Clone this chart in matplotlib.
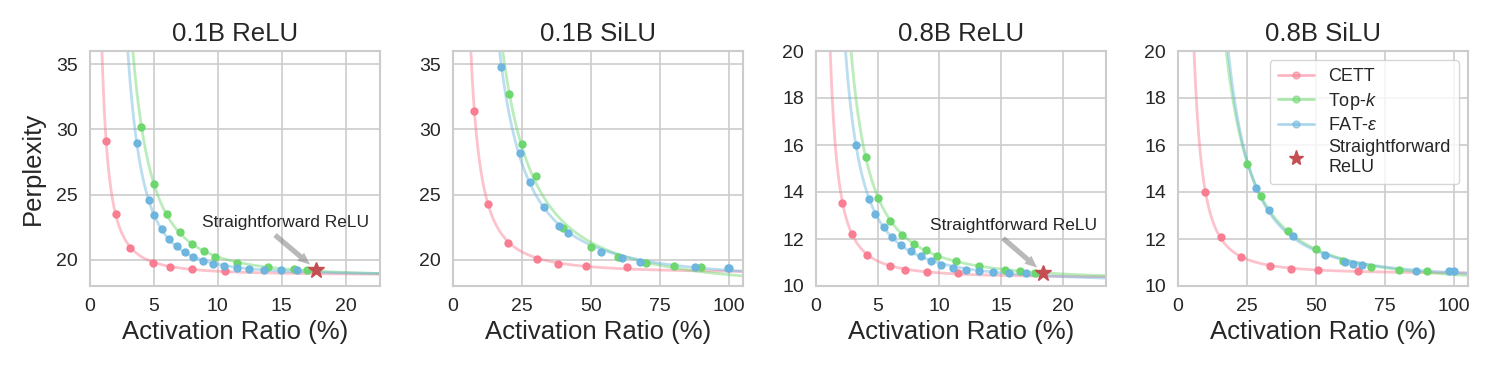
import numpy as np
import matplotlib
matplotlib.use("Agg")
import matplotlib.pyplot as plt
import seaborn as sns

sns.set_style("whitegrid")
plt.rcParams['font.family'] = ['Liberation Sans', 'DejaVu Sans']
plt.rcParams['mathtext.fontset'] = 'custom'
plt.rcParams['mathtext.it'] = 'Liberation Sans:italic'
plt.rcParams['mathtext.rm'] = 'Liberation Sans'

# ---- data ----
titles = ["0.1B ReLU", "0.1B SiLU", "0.8B ReLU", "0.8B SiLU"]
methods = ["CETT", "Top-$k$", "FAT-$\\varepsilon$"]
colors = ["#f97a8f", "#6ad66a", "#6ab4de"]

# 0.1B ReLU
relu01_cett_x = [1.26, 2.02, 3.17, 4.97, 6.23, 7.96, 10.55]
relu01_cett_y = [29.13, 23.49, 20.92, 19.77, 19.49, 19.28, 19.15]
relu01_topk_x = [4.03, 5.0, 6.02, 7.02, 7.96, 8.9, 9.82, 11.54, 13.93, 16.0, 16.96]
relu01_topk_y = [30.2, 25.79, 23.49, 22.13, 21.23, 20.67, 20.21, 19.74, 19.44, 19.31, 19.23]
relu01_fat_x = [3.66, 4.58, 5.03, 5.6, 6.18, 6.78, 7.41, 8.09, 8.82, 9.61, 10.5,
                11.47, 12.46, 13.61, 14.92, 16.23]
relu01_fat_y = [28.92, 24.62, 23.41, 22.38, 21.62, 21.05, 20.59, 20.21, 19.9, 19.69, 19.51,
                19.38, 19.31, 19.23, 19.23, 19.2]
relu01_star = (17.72, 19.23)

# 0.1B SiLU
silu01_cett_x = [7.73, 12.8, 20.05, 30.56, 38.04, 48.07, 63.04]
silu01_cett_y = [31.41, 24.28, 21.31, 20.03, 19.72, 19.51, 19.44]
silu01_topk_x = [20.17, 25.12, 30.07, 39.98, 50.0, 59.9, 69.9, 79.95, 89.86]
silu01_topk_y = [32.74, 28.87, 26.41, 22.41, 20.97, 20.23, 19.77, 19.54, 19.44]
silu01_fat_x = [17.51, 24.15, 27.9, 32.85, 38.41, 41.67, 53.62, 61.35, 67.75, 87.44, 99.5, 100]
silu01_fat_y = [34.77, 28.15, 25.97, 24.03, 22.62, 22.03, 20.64, 20.13, 19.82, 19.44, 19.41, 19.41]

# 0.8B ReLU
relu08_cett_x = [2.14, 2.95, 4.14, 5.97, 7.24, 8.97, 11.54]
relu08_cett_y = [13.55, 12.23, 11.31, 10.84, 10.70, 10.60, 10.55]
relu08_topk_x = [4.03, 5.0, 6.03, 7.0, 7.95, 8.95, 9.81, 11.38, 13.22, 15.35, 16.54, 17.78]
relu08_topk_y = [15.50, 13.75, 12.78, 12.19, 11.79, 11.55, 11.29, 11.05, 10.85, 10.70, 10.63, 10.55]
relu08_fat_x = [3.24, 4.27, 4.81, 5.49, 6.19, 6.92, 7.7, 8.49, 9.32, 10.16, 11.14,
                12.16, 13.24, 14.38, 15.62, 17.03]
relu08_fat_y = [16.0, 13.69, 13.07, 12.53, 12.10, 11.76, 11.49, 11.26, 11.07, 10.91, 10.78,
                10.70, 10.63, 10.58, 10.55, 10.55]
relu08_star = (18.43, 10.55)

# 0.8B SiLU
silu08_cett_x = [9.9, 15.46, 22.7, 33.33, 40.82, 50.85, 65.34]
silu08_cett_y = [14.01, 12.09, 11.22, 10.84, 10.74, 10.70, 10.65]
silu08_topk_x = [25.12, 29.95, 39.98, 49.88, 59.9, 69.93, 79.95, 89.98]
silu08_topk_y = [15.21, 13.85, 12.35, 11.56, 11.07, 10.82, 10.70, 10.65]
silu08_fat_x = [28.14, 33.09, 41.55, 53.14, 60.5, 63.4, 66.67, 86.0, 98.3, 100]
silu08_fat_y = [14.18, 13.22, 12.13, 11.34, 11.04, 10.95, 10.88, 10.65, 10.65, 10.65]

panels = [
    ([(relu01_cett_x, relu01_cett_y), (relu01_topk_x, relu01_topk_y), (relu01_fat_x, relu01_fat_y)],
     relu01_star, (0, 22.7), (18, 36), [0, 5, 10, 15, 20], [20, 25, 30, 35]),
    ([(silu01_cett_x, silu01_cett_y), (silu01_topk_x, silu01_topk_y), (silu01_fat_x, silu01_fat_y)],
     None, (0, 105), (18, 36), [0, 25, 50, 75, 100], [20, 25, 30, 35]),
    ([(relu08_cett_x, relu08_cett_y), (relu08_topk_x, relu08_topk_y), (relu08_fat_x, relu08_fat_y)],
     relu08_star, (0, 23.5), (10, 20), [0, 5, 10, 15, 20], [10, 12, 14, 16, 18, 20]),
    ([(silu08_cett_x, silu08_cett_y), (silu08_topk_x, silu08_topk_y), (silu08_fat_x, silu08_fat_y)],
     None, (0, 105), (10, 20), [0, 25, 50, 75, 100], [10, 12, 14, 16, 18, 20]),
]


def fit_curve(x, y):
    # least-squares fit of y = c + a / x**p (trend line through the points)
    x = np.asarray(x, float)
    y = np.asarray(y, float)
    best = None
    for p in np.linspace(0.3, 4, 371):
        A = np.column_stack([x ** -p, np.ones_like(x)])
        coef, *_ = np.linalg.lstsq(A, y, rcond=None)
        err = np.sum((A @ coef - y) ** 2)
        if best is None or err < best[0]:
            best = (err, p, coef)
    _, p, (a, c) = best
    return lambda t: c + a * t ** -p


fig, axes = plt.subplots(1, 4, figsize=(14.95, 3.74), dpi=100)
lefts = [90, 453, 816, 1178]
for ax, l in zip(axes, lefts):
    ax.set_position([l / 1495, 1 - 286 / 374, 290 / 1495, 235 / 374])

for i, (ax, (series, star, xlim, ylim, xt, yt)) in enumerate(zip(axes, panels)):
    for (x, y), c, name in zip(series, colors, methods):
        f = fit_curve(x, y)
        xs = np.linspace(0.3, xlim[1], 600)
        ax.plot(xs, f(xs), color=c, alpha=0.45, lw=2, zorder=2)
        ax.plot(x, y, 'o', color=c, ms=5, alpha=0.95, zorder=3)
        # legend proxy
        ax.plot([], [], '-o', color=c, alpha=0.55, ms=5, lw=2, label=name)
    if star is not None:
        ax.plot(star[0], star[1], '*', color='#c44e52', ms=12, zorder=4)
        span = ylim[1] - ylim[0]
        ax.annotate("Straightforward ReLU", xy=star,
                    xytext=(star[0] - 2.4, star[1] + 0.17 * span),
                    ha='center', va='bottom', fontsize=12.5, color='#262626',
                    arrowprops=dict(arrowstyle="simple,head_length=0.7,head_width=0.6,tail_width=0.3",
                                    fc='gray', ec='none', alpha=0.55,
                                    shrinkA=2, shrinkB=6, relpos=(0.4, 0.0)))
    else:
        ax.plot([], [], '*', color='#c44e52', ms=11, ls='none', label="Straightforward\nReLU")
    ax.set_xlim(*xlim)
    ax.set_ylim(*ylim)
    ax.set_xticks(xt)
    ax.set_yticks(yt)
    ax.tick_params(labelsize=14, pad=5, colors='#262626')
    ax.set_title(titles[i], fontsize=18.5, color='#262626', pad=7)
    ax.set_xlabel("Activation Ratio (%)", fontsize=18.5, color='#262626')
    for s in ax.spines.values():
        s.set_edgecolor('#cccccc')
        s.set_linewidth(1.5)
    ax.grid(True, color='#cccccc', lw=1.2)

axes[0].set_ylabel("Perplexity", fontsize=18.5, color='#262626', labelpad=8)

handles, labels = axes[3].get_legend_handles_labels()
axes[3].legend(handles, labels, loc='upper right', fontsize=13, frameon=True,
               handlelength=2.0, borderpad=0.45, labelspacing=0.3)

fig.savefig("out.png", dpi=100)
